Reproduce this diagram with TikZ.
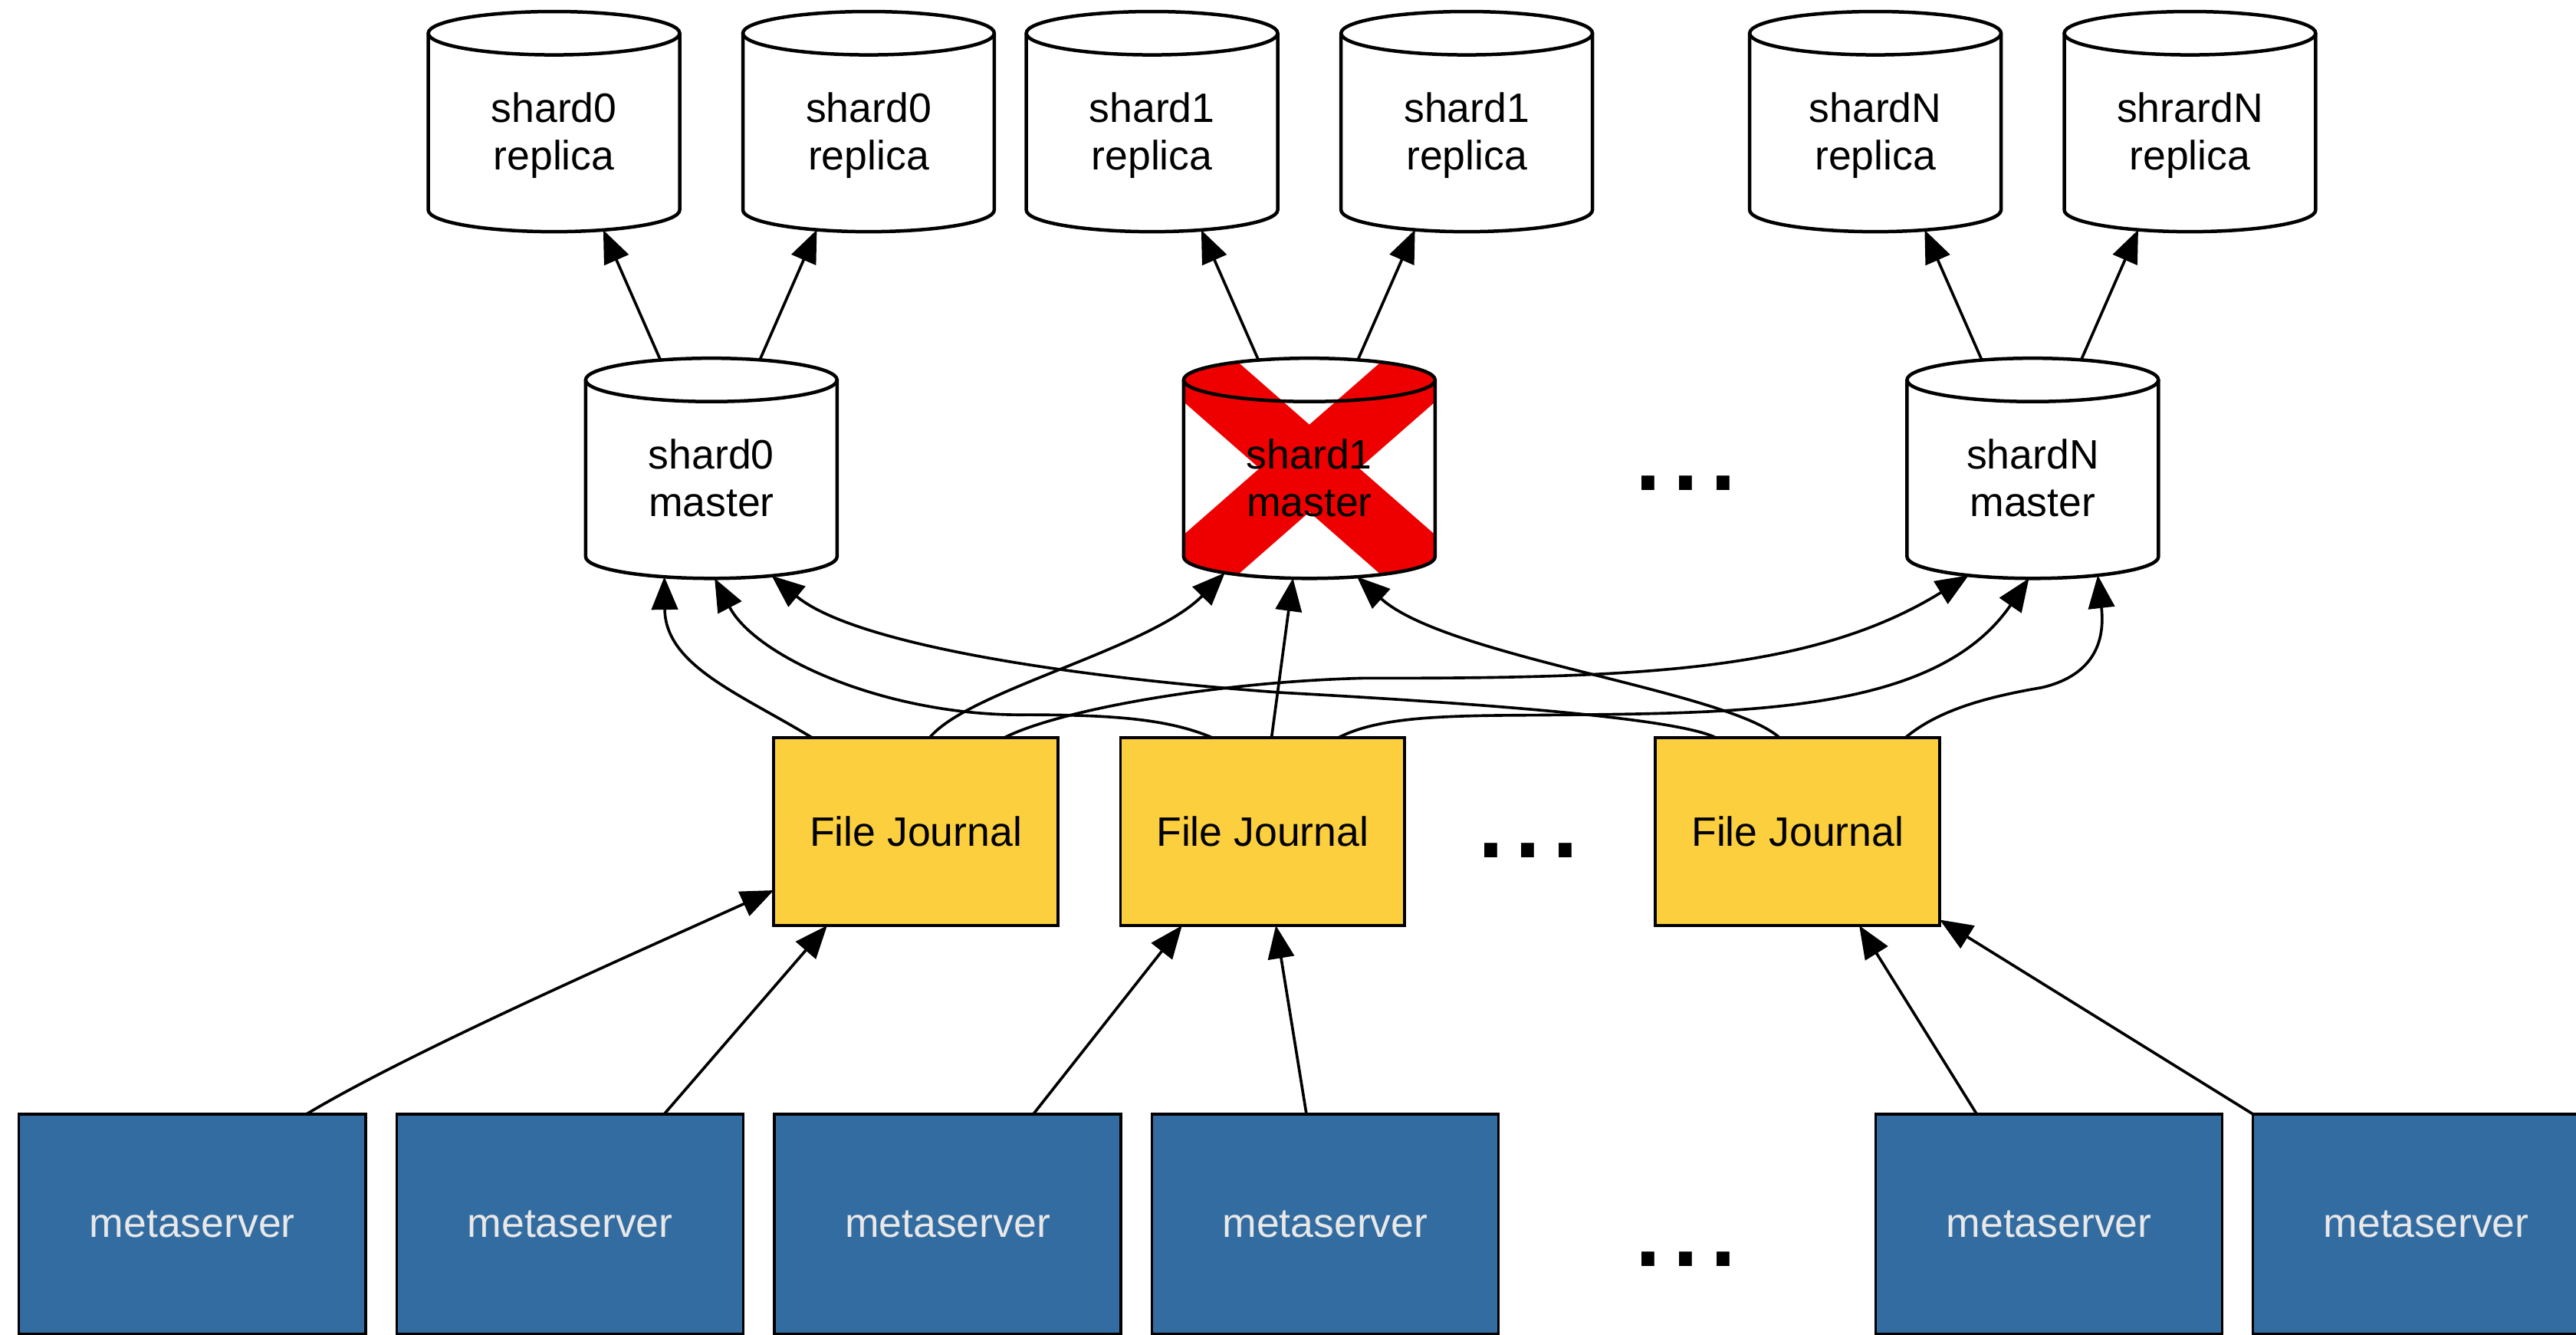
\documentclass[tikz,border=0pt]{standalone}
\usepackage{fontspec}
\setmainfont{Liberation Sans}
\usetikzlibrary{arrows.meta,calc,backgrounds}
\definecolor{jyellow}{RGB}{252,207,63}
\definecolor{mblue}{RGB}{51,108,160}
\definecolor{mtext}{RGB}{232,232,232}
\definecolor{xred}{RGB}{238,0,0}
\newcommand\drawcyl[1]{%
  \draw[cylline] ([yshift=-13.2pt]#1.north west) -- ([yshift=13.2pt]#1.south west)
     arc[start angle=180,end angle=360,x radius=76.5pt,y radius=13.2pt]
     -- ([yshift=-13.2pt]#1.north east);
  \draw[cylline] ([yshift=-13.2pt]#1.north) ellipse[x radius=76.5pt,y radius=13.2pt];
}
\tikzset{
  cylbox/.style={rectangle, inner sep=0pt, outer sep=0pt, minimum width=153pt,
    minimum height=134pt, align=center, font=\fontsize{25}{29}\selectfont,
    text height=58.8pt, text depth=0pt},
  cylline/.style={line width=2.1pt, draw=black},
  journal/.style={rectangle, draw=black, line width=1.8pt, fill=jyellow,
    minimum width=173pt, minimum height=114.5pt, inner sep=0pt, outer sep=0pt,
    font=\fontsize{25}{29}\selectfont},
  server/.style={rectangle, draw=black, line width=1.6pt, fill=mblue, text=mtext,
    minimum width=211pt, minimum height=134pt, inner sep=0pt, outer sep=0pt,
    font=\fontsize{25}{29}\selectfont},
  conn/.style={line width=1.7pt, -{Triangle[length=20pt,width=16pt]}},
  dots/.style={inner sep=0pt, anchor=base, font=\fontsize{82}{82}\selectfont},
}
\begin{document}
\begin{tikzpicture}[x=1pt,y=1pt]
\useasboundingbox (0,0) rectangle (1568,-812);
\clip (0,0) rectangle (1568,-812);

% replicas
\node[cylbox] (r1) at (337.2,-74) {shard0\\replica};
\node[cylbox] (r2) at (528.7,-74) {shard0\\replica};
\node[cylbox] (r3) at (701.2,-74) {shard1\\replica};
\node[cylbox] (r4) at (892.8,-74) {shard1\\replica};
\node[cylbox] (r5) at (1141.5,-74) {shardN\\replica};
\node[cylbox] (r6) at (1333,-74) {shrardN\\replica};
% masters
\node[cylbox] (m0) at (433,-285) {shard0\\master};
\node[cylbox] (m1) at (797,-285) {shard1\\master};
\node[cylbox] (mn) at (1237.3,-285) {shardN\\master};

\begin{scope}[on background layer]
  \fill[white] (0,0) rectangle (1568,-812);
  \begin{scope}
  \clip ([yshift=-13.2pt]m1.north west)
     arc[start angle=180,end angle=0,x radius=76.5pt,y radius=13.2pt]
     -- ([yshift=13.2pt]m1.south east)
     arc[start angle=0,end angle=-180,x radius=76.5pt,y radius=13.2pt] -- cycle;
  \draw[xred, line width=40pt] (m1.north west) -- (m1.south east)
                              (m1.north east) -- (m1.south west);
  \end{scope}
\end{scope}

\foreach \c in {r1,r2,r3,r4,r5,r6,m0,m1,mn} {\drawcyl{\c}}

% journals
\node[journal] (j0) at (557.5,-506) {File Journal};
\node[journal] (j1) at (768.5,-506) {File Journal};
\node[journal] (j2) at (1094.2,-506) {File Journal};

% metaservers
\node[server] (s1) at (117,-745) {metaserver};
\node[server] (s2) at (347,-745) {metaserver};
\node[server] (s3) at (576.8,-745) {metaserver};
\node[server] (s4) at (806.6,-745) {metaserver};
\node[server] (s5) at (1247.2,-745) {metaserver};
\node[server] (s6) at (1476.8,-745) {metaserver};

% ellipses
\node[dots] (d1) at (1026.2,-298.6) {...};
\node[dots] (d2) at (930.2,-522) {...};
\node[dots] (d3) at (1026.2,-770.9) {...};

% master -> replica
\draw[conn] ([xshift=-31pt,yshift=-1.1pt]m0.north) -- ([xshift=30pt,yshift=1.05pt]r1.south);
\draw[conn] ([xshift=29.5pt,yshift=-1pt]m0.north) -- ([xshift=-31.5pt,yshift=1.17pt]r2.south);
\draw[conn] ([xshift=-31pt,yshift=-1.1pt]m1.north) -- ([xshift=30pt,yshift=1.05pt]r3.south);
\draw[conn] ([xshift=29.5pt,yshift=-1pt]m1.north) -- ([xshift=-31.5pt,yshift=1.17pt]r4.south);
\draw[conn] ([xshift=-31pt,yshift=-1.1pt]mn.north) -- ([xshift=30pt,yshift=1.05pt]r5.south);
\draw[conn] ([xshift=29.5pt,yshift=-1pt]mn.north) -- ([xshift=-31.5pt,yshift=1.17pt]r6.south);

% journal -> master
\draw[conn] ([xshift=-63.5pt]j0.north) .. controls (450,-422) and (405,-405) .. ([xshift=-28.6pt,yshift=0.96pt]m0.south);
\draw[conn] ([xshift=-31pt]j1.north) .. controls (712,-438) and (680,-435) .. (625,-435)
   .. controls (540,-436) and (460,-400) .. ([xshift=2pt]m0.south);
\draw[conn] ([xshift=-50.2pt]j2.north) .. controls (1020,-437) and (900,-428) .. (780,-421.5)
   .. controls (650,-412) and (520,-392) .. ([xshift=36.7pt,yshift=1.62pt]m0.south);
\draw[conn] ([xshift=8.5pt]j0.north) .. controls (590,-420) and (700,-395) .. ([xshift=-51.4pt,yshift=3.42pt]m1.south);
\draw[conn] ([xshift=5.5pt]j1.north) -- ([xshift=-10pt,yshift=0.11pt]m1.south);
\draw[conn] ([xshift=-11.2pt]j2.north) .. controls (1050,-420) and (880,-400) .. ([xshift=29pt,yshift=0.98pt]m1.south);
\draw[conn] ([xshift=54.2pt]j0.north) .. controls (645,-432) and (740,-415) .. (830,-412.7)
   .. controls (1000,-413) and (1104.5,-408.2) .. ([xshift=-39pt,yshift=1.85pt]mn.south);
\draw[conn] ([xshift=46.5pt]j1.north) .. controls (840,-436) and (880,-435.5) .. (936,-435.2)
   .. controls (1060,-434) and (1178,-435) .. ([xshift=-2.3pt]mn.south);
\draw[conn] ([xshift=65.8pt]j2.north) .. controls (1180,-432) and (1210,-424) .. (1243,-418.4)
   .. controls (1270,-412) and (1282,-395) .. ([xshift=39.6pt,yshift=1.9pt]mn.south);

% metaserver -> journal
\draw[conn] ([xshift=69.6pt]s1.north) .. controls (250,-640) and (380,-583) .. ([yshift=-35.8pt]j0.west);
\draw[conn] ([xshift=57.3pt]s2.north) -- ([xshift=-54pt]j0.south);
\draw[conn] ([xshift=52.2pt]s3.north) -- ([xshift=-49pt]j1.south);
\draw[conn] ([xshift=-11.4pt]s4.north) -- ([xshift=8.1pt]j1.south);
\draw[conn] ([xshift=-44pt]s5.north) -- ([xshift=37.5pt]j2.south);
\draw[conn] (s6.north west) -- ([yshift=3.5pt]j2.south east);
\end{tikzpicture}
\end{document}
